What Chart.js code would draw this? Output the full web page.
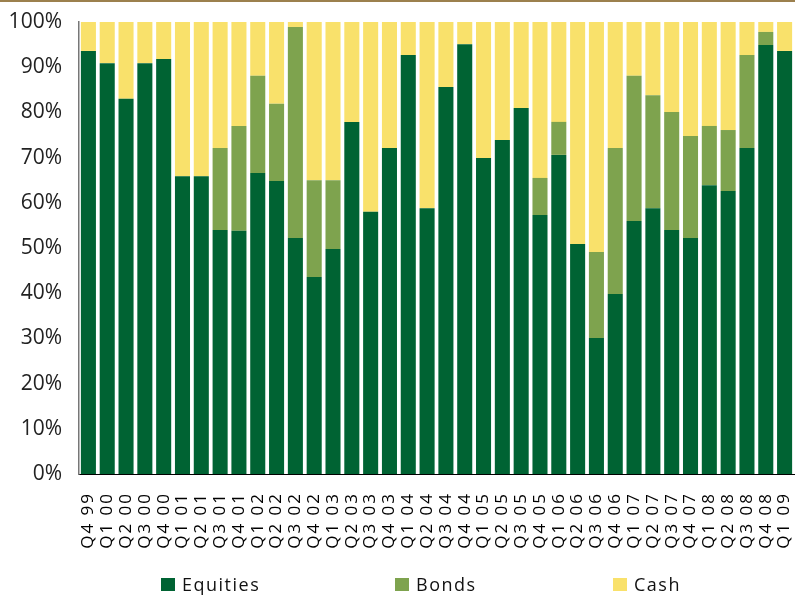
<!DOCTYPE html>
<html>
<head>
<meta charset="utf-8">
<title>Asset allocation by quarter</title>
<script src="https://cdn.jsdelivr.net/npm/chart.js@4/dist/chart.umd.min.js"></script>
<style>
  html, body { margin: 0; padding: 0; background: #fff; }
  #wrap { position: relative; width: 795px; height: 595px; overflow: hidden; }
  #wrap canvas { position: absolute; left: 0; top: 0; }
  #rule { position: absolute; left: 0; top: 0; width: 795px; height: 2px; background: #9c804e; }
  .swatch { position: absolute; top: 578px; width: 14px; height: 13px; }
  .key { position: absolute; top: 575px; font-family: "Open Sans", sans-serif; font-size: 18px;
         line-height: 18px; letter-spacing: 1.5px; color: #111; white-space: nowrap; }
</style>
</head>
<body>
<div id="wrap">
  <canvas id="chart" width="795" height="595"></canvas>
  <div id="rule"></div>
</div>
<script>
// Quarter labels along the x axis
const quarters = [
  'Q4 99', 'Q1 00', 'Q2 00', 'Q3 00', 'Q4 00', 'Q1 01', 'Q2 01', 'Q3 01', 'Q4 01',
  'Q1 02', 'Q2 02', 'Q3 02', 'Q4 02', 'Q1 03', 'Q2 03', 'Q3 03', 'Q4 03',
  'Q1 04', 'Q2 04', 'Q3 04', 'Q4 04', 'Q1 05', 'Q2 05', 'Q3 05', 'Q4 05',
  'Q1 06', 'Q2 06', 'Q3 06', 'Q4 06', 'Q1 07', 'Q2 07', 'Q3 07', 'Q4 07',
  'Q1 08', 'Q2 08', 'Q3 08', 'Q4 08', 'Q1 09'
];

// Share of the portfolio in each asset class, percent
const equities = [
  93.6, 90.9, 83.0, 90.9, 91.8, 65.9, 65.9, 54.0, 53.8,
  66.6, 64.8, 52.2, 43.6, 49.8, 77.9, 58.0, 72.1,
  92.7, 58.8, 85.6, 95.1, 69.9, 73.9, 81.0, 57.3,
  70.6, 50.9, 30.1, 39.8, 56.0, 58.8, 54.0, 52.2,
  63.9, 62.6, 72.1, 94.9, 93.6
];
const bonds = [
  0, 0, 0, 0, 0, 0, 0, 18.1, 23.2,
  21.5, 17.1, 46.7, 21.4, 15.2, 0, 0, 0,
  0, 0, 0, 0, 0, 0, 0, 8.2,
  7.3, 0, 19.0, 32.3, 32.1, 25.0, 26.1, 22.6,
  13.1, 13.5, 20.6, 2.9, 0
];
const cash = [
  6.4, 9.1, 17.0, 9.1, 8.2, 34.1, 34.1, 27.9, 23.0,
  11.9, 18.1, 1.1, 35.0, 35.0, 22.1, 42.0, 27.9,
  7.3, 41.2, 14.4, 4.9, 30.1, 26.1, 19.0, 34.5,
  22.1, 49.1, 50.9, 27.9, 11.9, 16.2, 19.9, 25.2,
  23.0, 23.9, 7.3, 2.2, 6.4
];

// Y axis ticks
const yTicks = [0, 10, 20, 30, 40, 50, 60, 70, 80, 90, 100];

const seriesNames = ['Equities', 'Bonds', 'Cash'];
const seriesColors = ['#006333', '#7ea34e', '#f9e16b'];

// Legend row under the chart
const legendSlots = [{ box: 161, text: 182 }, { box: 395, text: 416 }, { box: 613, text: 634 }];
const wrap = document.getElementById('wrap');
seriesNames.forEach((name, i) => {
  const sw = document.createElement('div');
  sw.className = 'swatch';
  sw.style.left = legendSlots[i].box + 'px';
  sw.style.background = seriesColors[i];
  wrap.appendChild(sw);
  const key = document.createElement('div');
  key.className = 'key';
  key.style.left = legendSlots[i].text + 'px';
  key.textContent = name;
  wrap.appendChild(key);
});

// Draw the quarter labels with a little letter spacing
const spacedQuarterLabels = {
  id: 'spacedQuarterLabels',
  afterLayout(chart) {
    const xs = chart.scales.x;
    if (!xs || xs._spaced) return;
    const base = xs.drawLabels.bind(xs);
    xs.drawLabels = function (area) {
      const c = this.ctx;
      c.save();
      c.letterSpacing = '2px';
      base(area);
      c.restore();
    };
    xs._spaced = true;
  }
};

function draw() {
  new Chart(document.getElementById('chart'), {
    type: 'bar',
    data: {
      labels: quarters,
      datasets: [
        { label: seriesNames[0], data: equities, backgroundColor: seriesColors[0] },
        { label: seriesNames[1], data: bonds, backgroundColor: seriesColors[1] },
        { label: seriesNames[2], data: cash, backgroundColor: seriesColors[2] }
      ]
    },
    plugins: [spacedQuarterLabels],
    options: {
      responsive: false,
      animation: false,
      layout: { padding: { top: 22, right: 1, left: 0, bottom: 0 } },
      datasets: { bar: { barPercentage: 0.8, categoryPercentage: 1, borderWidth: 0 } },
      plugins: { legend: { display: false }, tooltip: { enabled: false } },
      scales: {
        x: {
          stacked: true,
          grid: { display: false, drawTicks: false },
          border: { display: true, color: '#000', width: 1 },
          ticks: {
            autoSkip: false, minRotation: 90, maxRotation: 90, padding: 18,
            color: '#000', font: { family: 'Open Sans', size: 17 }
          },
          afterFit(scale) {
            scale.height = 121;
            scale.paddingLeft = 0;
            scale.paddingRight = 0;
          }
        },
        y: {
          stacked: true,
          min: 0,
          max: 100,
          afterBuildTicks(scale) { scale.ticks = yTicks.map(v => ({ value: v })); },
          grid: { display: false, drawTicks: false },
          border: { display: true, color: '#777', width: 1.5 },
          ticks: {
            padding: 17, color: '#222', font: { family: 'Open Sans', size: 21 },
            callback: v => v + '%'
          },
          afterFit(scale) {
            scale.width = 79;
            scale.paddingTop = 0;
            scale.paddingBottom = 0;
          }
        }
      }
    }
  });
}

Promise.all([
  document.fonts.load('17px "Open Sans"'),
  document.fonts.load('21px "Open Sans"')
]).then(draw, draw);
</script>
</body>
</html>
